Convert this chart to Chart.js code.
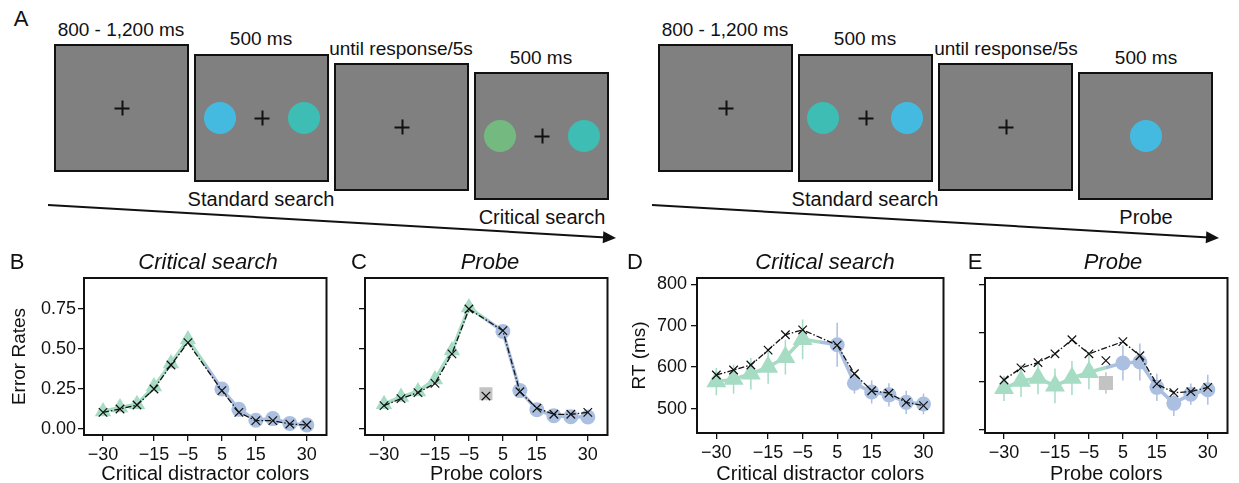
<!DOCTYPE html>
<html>
<head>
<meta charset="utf-8">
<script src="https://cdn.jsdelivr.net/npm/chart.js@4.4.1/dist/chart.umd.min.js"></script>
<style>
  body { margin: 0; background: #fff; font-family: 'Liberation Sans', Arial, sans-serif; color: #111; }
  #fig { position: relative; width: 1239px; height: 483px; overflow: hidden; }
  .t { position: absolute; white-space: nowrap; transform: translate(-50%, -50%); line-height: 1; }
  .scr { position: absolute; box-sizing: border-box; border: 2px solid #111; background: #808080; width: 135px; height: 128px; }
  .dot { position: absolute; width: 32px; height: 32px; border-radius: 50%; transform: translate(-50%, -50%); }
  .fix { position: absolute; width: 15px; height: 15px; transform: translate(-50%, -50%); }
  .fix:before, .fix:after { content: ''; position: absolute; background: #111; }
  .fix:before { left: 0; top: 6.5px; width: 15px; height: 2px; }
  .fix:after { left: 6.5px; top: 0; width: 2px; height: 15px; }
  canvas { position: absolute; top: 250px; }
  svg { position: absolute; left: 0; top: 0; }
</style>
</head>
<body>
<div id="fig">
  <svg width="1239" height="250">
    <line x1="48" y1="205" x2="606" y2="237.4" stroke="#111" stroke-width="2"/>
    <polygon points="0,0 -13,-6 -13,6" fill="#111" transform="translate(616,238) rotate(3.33)"/>
    <line x1="652" y1="205" x2="1209" y2="237.4" stroke="#111" stroke-width="2"/>
    <polygon points="0,0 -13,-6 -13,6" fill="#111" transform="translate(1219,238) rotate(3.33)"/>
  </svg>
  <canvas id="chartB" width="336" height="233" style="left:0px"></canvas>
  <canvas id="chartC" width="281" height="233" style="left:336px"></canvas>
  <canvas id="chartD" width="335" height="233" style="left:620px"></canvas>
  <canvas id="chartE" width="284" height="233" style="left:955px"></canvas>
</div>
<script>
// x positions (colour distance) and ticks
const colorSteps = [-30, -25, -20, -15, -10, -5, 5, 10, 15, 20, 25, 30];
const xTicks = [-30, -15, -5, 5, 15, 30];
const errTicks = [0, 0.25, 0.5, 0.75];
const rtTicks = [500, 600, 700, 800];

// B: critical search error rates
const critErrObs   = [0.11, 0.135, 0.155, 0.265, 0.41, 0.56, 0.25, 0.123, 0.055, 0.065, 0.035, 0.025];
const critErrModel = [0.104, 0.125, 0.15, 0.25, 0.40, 0.54, 0.24, 0.104, 0.052, 0.052, 0.031, 0.025];
const critErrSe    = [0.015, 0.015, 0.02, 0.025, 0.03, 0.03, 0.03, 0.02, 0.015, 0.015, 0.01, 0.01];

// C: probe error rates (+ neutral probe at 0)
const probeErrObs   = [0.155, 0.2, 0.235, 0.31, 0.49, 0.76, 0.61, 0.24, 0.12, 0.083, 0.077, 0.075];
const probeErrModel = [0.146, 0.19, 0.227, 0.285, 0.47, 0.75, 0.615, 0.233, 0.13, 0.092, 0.092, 0.104];
const probeErrSe    = [0.02, 0.02, 0.025, 0.03, 0.035, 0.035, 0.04, 0.03, 0.02, 0.015, 0.015, 0.015];
const probeErrNeutral = [0.22];
const probeErrNeutralModel = [0.206];
const probeErrNeutralSe = [0.02];

// D: critical search RT
const critRtObs   = [565, 571, 584, 600, 624, 667, 654, 561, 540, 533, 515, 511];
const critRtModel = [581, 593, 605, 641, 678, 690, 653, 584, 543, 537, 515, 507];
const critRtSe    = [33, 35, 38, 40, 42, 48, 53, 25, 28, 28, 28, 25];

// E: probe RT (+ neutral probe at 0)
const probeRtObs   = [586, 601, 607, 591, 607, 619, 638, 640, 588, 555, 574, 583];
const probeRtModel = [603, 628, 639, 657, 686, 657, 682, 653, 595, 577, 579, 588];
const probeRtSe    = [26, 33, 33, 36, 35, 35, 36, 38, 28, 26, 22, 31];
const probeRtNeutral = [597];
const probeRtNeutralModel = [643];
const probeRtNeutralSe = [22];

const GREEN = '#a6dbc4';
const BLUE = '#abbfe0';
const GRAY = '#c3c3c3';

// ---- panel A (task sequence) ----
const fig = document.getElementById('fig');
function addText(txt, x, y, size, extra) {
  const d = document.createElement('div');
  d.className = 't';
  d.textContent = txt;
  d.style.left = x + 'px';
  d.style.top = y + 'px';
  d.style.fontSize = size + 'px';
  if (extra) Object.assign(d.style, extra);
  fig.appendChild(d);
}
function addScreen(x, y, items) {
  const s = document.createElement('div');
  s.className = 'scr';
  s.style.left = x + 'px';
  s.style.top = y + 'px';
  items.forEach(it => {
    const e = document.createElement('div');
    e.className = it.c ? 'dot' : 'fix';
    e.style.left = (it.x - 2) + 'px';
    e.style.top = (64 - 2) + 'px';
    if (it.c) e.style.background = it.c;
    s.appendChild(e);
  });
  fig.appendChild(s);
}
const cBlue = '#45bae0', cTeal = '#3dbdb3', cGreen = '#74b97f';
addText('A', 21, 19, 22);
// left sequence
addScreen(54, 44, [{ x: 68 }]);
addScreen(194, 54, [{ x: 26, c: cBlue }, { x: 68 }, { x: 110, c: cTeal }]);
addScreen(334, 63, [{ x: 68 }]);
addScreen(474, 72, [{ x: 26, c: cGreen }, { x: 68 }, { x: 110, c: cTeal }]);
addText('800 - 1,200 ms', 121, 29, 19);
addText('500 ms', 261, 38, 19);
addText('until response/5s', 401, 48, 19);
addText('500 ms', 541, 57, 19);
addText('Standard search', 261, 199, 20);
addText('Critical search', 542, 217, 20);
// right sequence
addScreen(658, 44, [{ x: 68 }]);
addScreen(798, 54, [{ x: 25, c: cTeal }, { x: 68 }, { x: 109, c: cBlue }]);
addScreen(938, 63, [{ x: 68 }]);
addScreen(1078, 72, [{ x: 68, c: cBlue }]);
addText('800 - 1,200 ms', 725, 29, 19);
addText('500 ms', 865, 38, 19);
addText('until response/5s', 1006, 48, 19);
addText('500 ms', 1146, 57, 19);
addText('Standard search', 865, 199, 20);
addText('Probe', 1146, 217, 20);

// panel letters and titles
addText('B', 17, 262, 22);
addText('Critical search', 208, 262, 22, { fontStyle: 'italic' });
addText('C', 359, 262, 22);
addText('Probe', 490, 262, 22, { fontStyle: 'italic' });
addText('D', 635, 262, 22);
addText('Critical search', 825, 262, 22, { fontStyle: 'italic' });
addText('E', 975, 262, 22);
addText('Probe', 1113, 262, 22, { fontStyle: 'italic' });

// ---- charts ----
Chart.defaults.font.family = "'Liberation Sans', Arial, sans-serif";
Chart.defaults.color = '#111';
Chart.defaults.animation = false;

const frame = {
  id: 'frame',
  afterDraw(chart) {
    const { ctx, chartArea: a } = chart;
    ctx.save();
    ctx.strokeStyle = '#111';
    ctx.lineWidth = 2;
    ctx.strokeRect(a.left, a.top, a.right - a.left, a.bottom - a.top);
    ctx.restore();
  }
};

const errorBars = {
  id: 'errorBars',
  beforeDatasetsDraw(chart) {
    const { ctx, scales: { x, y } } = chart;
    ctx.save();
    ctx.lineWidth = 1.5;
    chart.data.datasets.forEach(ds => {
      if (!ds.errors) return;
      ds.data.forEach((p, i) => {
        const px = x.getPixelForValue(p.x);
        ctx.strokeStyle = Array.isArray(ds.pointBackgroundColor) ? ds.pointBackgroundColor[i] : ds.pointBackgroundColor;
        ctx.beginPath();
        ctx.moveTo(px, y.getPixelForValue(p.y - ds.errors[i]));
        ctx.lineTo(px, y.getPixelForValue(p.y + ds.errors[i]));
        ctx.stroke();
      });
    });
    ctx.restore();
  }
};

// green before the midpoint, blue after it
function segColor(c) {
  const x0 = colorSteps[c.p0DataIndex], x1 = colorSteps[c.p1DataIndex];
  if (x1 < 0) return GREEN;
  if (x0 > 0) return BLUE;
  const g = c.chart.ctx.createLinearGradient(c.p0.x, 0, c.p1.x, 0);
  g.addColorStop(0, GREEN);
  g.addColorStop(0.5, GREEN);
  g.addColorStop(0.5, BLUE);
  g.addColorStop(1, BLUE);
  return g;
}

const fmtX = v => (v < 0 ? '\u2212' + Math.abs(v) : String(v));

function makePanel(id, p) {
  const pts = ys => colorSteps.map((x, i) => ({ x, y: ys[i] }));
  const datasets = [
    {
      data: pts(p.model),
      borderColor: '#111',
      borderWidth: 1.3,
      borderDash: [6, 2, 1.5, 2],
      pointStyle: 'crossRot',
      pointRadius: 6,
      pointBorderColor: '#111',
      pointBorderWidth: 1.2,
      pointBackgroundColor: 'rgba(0,0,0,0)',
      order: 0
    },
    {
      data: pts(p.obs),
      errors: p.se,
      borderColor: GREEN,
      borderWidth: 3.5,
      segment: { borderColor: segColor },
      pointStyle: colorSteps.map(x => (x < 0 ? 'triangle' : 'circle')),
      pointRadius: colorSteps.map(x => (x < 0 ? p.triR : 7.5)),
      pointBackgroundColor: colorSteps.map(x => (x < 0 ? GREEN : BLUE)),
      pointBorderWidth: 0,
      order: 1
    }
  ];
  if (p.neutral) {
    datasets.push({
      data: [{ x: 0, y: p.neutralModel[0] }],
      showLine: false,
      pointStyle: 'crossRot',
      pointRadius: 6,
      pointBorderColor: '#111',
      pointBorderWidth: 1.2,
      order: 0
    });
    datasets.push({
      data: [{ x: 0, y: p.neutral[0] }],
      errors: p.neutralSe,
      showLine: false,
      pointStyle: 'rect',
      pointRadius: p.sqR,
      pointBackgroundColor: GRAY,
      pointBorderWidth: 0,
      order: 2
    });
  }
  return new Chart(document.getElementById(id), {
    type: 'line',
    data: { datasets },
    plugins: [frame, errorBars],
    options: {
      responsive: false,
      devicePixelRatio: 1,
      layout: { padding: { top: 28, right: p.padR, left: 0, bottom: 0 } },
      plugins: { legend: { display: false }, tooltip: { enabled: false } },
      scales: {
        x: {
          type: 'linear',
          min: -35.6,
          max: 35.8,
          afterBuildTicks: s => { s.ticks = xTicks.map(v => ({ value: v })); },
          afterFit: s => { s.height = p.xH; },
          ticks: { callback: fmtX, font: { size: 18 }, color: '#111', padding: 3, maxRotation: 0, autoSkip: false },
          grid: { drawOnChartArea: false, tickLength: 6, color: '#111', lineWidth: 1.3 },
          border: { display: false },
          title: { display: true, text: p.xTitle, font: { size: 20, lineHeight: 0.9 }, color: '#111', padding: 0 }
        },
        y: {
          min: p.yMin,
          max: p.yMax,
          afterBuildTicks: s => { s.ticks = p.yTicks.map(v => ({ value: v })); },
          afterFit: s => { s.width = p.yW; },
          ticks: { callback: p.yFmt, font: { size: 18 }, color: '#111', padding: p.yPad, autoSkip: false },
          grid: { drawOnChartArea: false, tickLength: 6, color: '#111', lineWidth: 1.3 },
          border: { display: false },
          title: { display: !!p.yTitle, text: p.yTitle, font: { size: 19, lineHeight: 1 }, color: '#111', padding: { top: 10.5, bottom: 0 } }
        }
      }
    }
  });
}

makePanel('chartB', {
  obs: critErrObs, model: critErrModel, se: critErrSe, triR: 9.5,
  yMin: -0.0375, yMax: 0.944, yTicks: errTicks, yFmt: v => v.toFixed(2), yTitle: 'Error Rates',
  yW: 84, yPad: 2, padR: 4, xH: 48, xTitle: 'Critical distractor colors'
});
makePanel('chartC', {
  obs: probeErrObs, model: probeErrModel, se: probeErrSe, triR: 9.5,
  neutral: probeErrNeutral, neutralModel: probeErrNeutralModel, neutralSe: probeErrNeutralSe, sqR: 9.2,
  yMin: -0.0375, yMax: 0.944, yTicks: errTicks, yFmt: () => '', yTitle: '',
  yW: 29, yPad: 2, padR: 4, xH: 48, xTitle: 'Probe colors'
});
makePanel('chartD', {
  obs: critRtObs, model: critRtModel, se: critRtSe, triR: 11.5,
  yMin: 441, yMax: 815, yTicks: rtTicks, yFmt: v => String(v), yTitle: 'RT (ms)',
  yW: 77, yPad: 4, padR: 4, xH: 50, xTitle: 'Critical distractor colors'
});
makePanel('chartE', {
  obs: probeRtObs, model: probeRtModel, se: probeRtSe, triR: 11.5,
  neutral: probeRtNeutral, neutralModel: probeRtNeutralModel, neutralSe: probeRtNeutralSe, sqR: 10,
  yMin: 494, yMax: 813, yTicks: rtTicks, yFmt: () => '', yTitle: '',
  yW: 30, yPad: 2, padR: 1, xH: 50, xTitle: 'Probe colors'
});
</script>
</body>
</html>
